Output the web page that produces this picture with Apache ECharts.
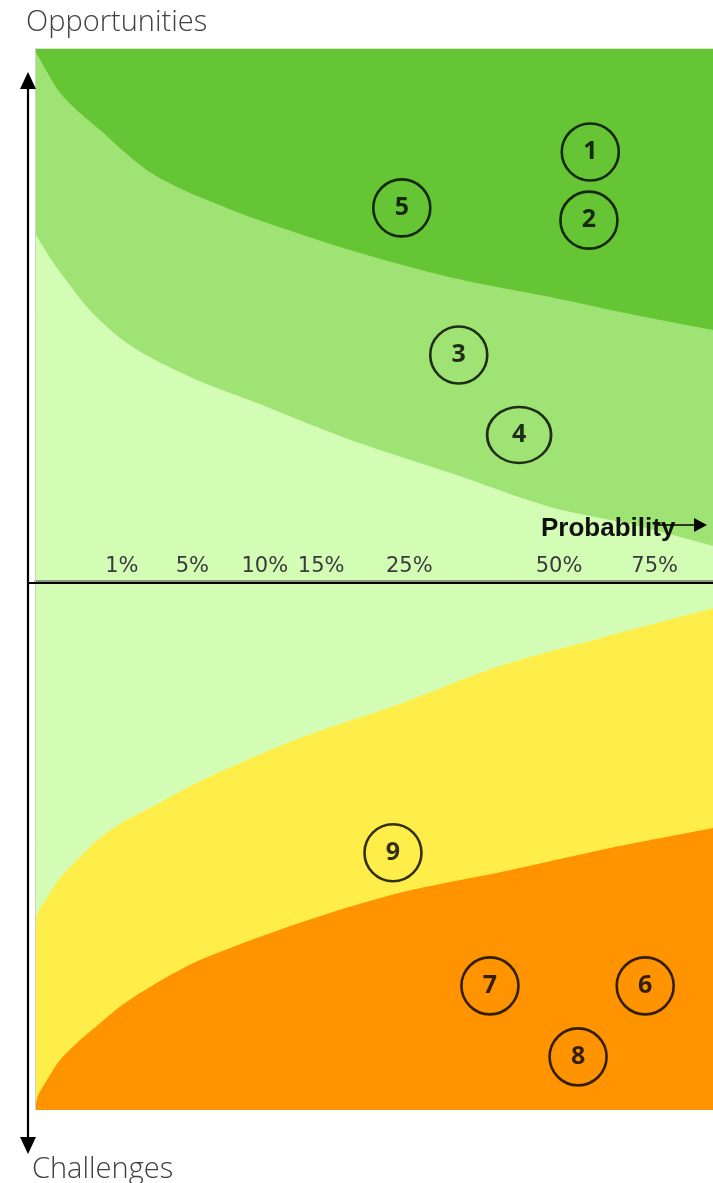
<!DOCTYPE html>
<html>
<head>
<meta charset="utf-8">
<script src="https://cdn.jsdelivr.net/npm/echarts@6/dist/echarts.min.js"></script>
<style>
html,body{margin:0;padding:0;background:#fff;}
#chart{width:713px;height:1183px;}
</style>
</head>
<body>
<div id="chart"></div>
<script>
// ---- data ----
const xTickPos = [12.8, 23.2, 33.9, 42.2, 55.2, 77.3, 91.4];
const xTickLabels = ['1%', '5%', '10%', '15%', '25%', '50%', '75%'];

// Opportunity zone boundaries (x: position, y: impact 0..100)
const highOppX = [0, 1.47, 3.69, 6.64, 9.59, 12.54, 16.96, 21.83, 27.29, 31.71, 46.46, 61.21, 75.96, 87.76, 100];
const highOppY = [99.6, 96.2, 91.6, 87.8, 84.6, 81.2, 76.7, 73.4, 70.5, 68.3, 62.1, 57.0, 53.3, 50.1, 47.1];
const midOppX = [0, 2.65, 5.16, 8.11, 12.54, 16.96, 24.34, 31.71, 46.46, 61.21, 75.96, 87.76, 100];
const midOppY = [65.3, 59.8, 55.5, 50.8, 45.6, 42.0, 37.5, 33.9, 26.5, 20.3, 13.9, 10.7, 6.6];

// Challenge zone boundaries (y: impact 0..-100)
const midChalX = [0, 0.44, 1.77, 3.69, 6.64, 9.59, 13.0, 16.96, 24.34, 39.09, 53.84, 68.58, 83.33, 100];
const midChalY = [-65.2, -62.4, -59.7, -55.9, -51.9, -48.3, -45.2, -42.6, -37.5, -29.3, -22.8, -15.6, -10.3, -4.6];
const highChalX = [0, 0.44, 1.77, 3.69, 6.64, 9.59, 13.0, 16.96, 24.34, 39.09, 53.84, 68.58, 83.33, 100];
const highChalY = [-100, -97.3, -94.3, -90.5, -86.7, -83.5, -79.9, -76.6, -71.5, -64.4, -58.7, -54.8, -50.6, -46.4];

// Items
const oppIds = ['1', '2', '5', '3', '4'];
const oppX = [81.9, 81.7, 54.1, 62.5, 71.4];
const oppY = [80.5, 67.7, 70.0, 42.4, 27.4];
const chalIds = ['9', '7', '6', '8'];
const chalX = [52.8, 67.1, 90.0, 80.1];
const chalY = [-51.1, -76.4, -76.4, -89.9];

// ---- build ----
const zip = (xs, ys) => xs.map((x, i) => [x, ys[i]]);
const chart = echarts.init(document.getElementById('chart'), null, {renderer: 'canvas'});

function bubbles(ids, xs, ys, gridIdx) {
  return {
    type: 'scatter',
    xAxisIndex: gridIdx, yAxisIndex: gridIdx,
    symbol: 'circle',
    symbolSize: 57,
    z: 10,
    itemStyle: {color: 'rgba(0,0,0,0)', borderColor: '#000', borderWidth: 2.6},
    label: {
      show: true, position: 'inside',
      formatter: p => p.name,
      fontFamily: 'Open Sans', fontWeight: 'bold', fontSize: 25, color: '#000'
    },
    emphasis: {disabled: true},
    data: ids.map((id, i) => {
      const d = {name: id, value: [xs[i], ys[i]]};
      if (id === '4') d.symbolSize = [64, 56];
      return d;
    })
  };
}

function band(xs, ys, color, origin, gridIdx) {
  return {
    type: 'line',
    xAxisIndex: gridIdx, yAxisIndex: gridIdx,
    smooth: 0.3,
    showSymbol: false,
    lineStyle: {width: 0},
    areaStyle: {color: color, opacity: 1, origin: origin},
    emphasis: {disabled: true},
    data: zip(xs, ys)
  };
}

const option = {
  animation: false,
  backgroundColor: '#ffffff',
  grid: [
    {left: 35, right: 0, top: 48, height: 533, show: true, backgroundColor: '#D3FDB4', borderWidth: 0},
    {left: 35, right: 0, top: 584, height: 526, show: true, backgroundColor: '#D3FDB4', borderWidth: 0}
  ],
  xAxis: [
    {
      type: 'value', gridIndex: 0, min: 0, max: 100,
      axisLine: {show: true, lineStyle: {color: '#8a9a82', width: 2}},
      axisTick: {show: false},
      splitLine: {show: false},
      axisLabel: {
        inside: true,
        customValues: xTickPos,
        formatter: v => {
          let best = 0;
          xTickPos.forEach((p, i) => { if (Math.abs(p - v) < Math.abs(xTickPos[best] - v)) best = i; });
          return xTickLabels[best];
        },
        fontFamily: 'DejaVu Sans', fontSize: 21, color: '#3a3a3a', margin: 4
      },
      z: 5
    },
    {type: 'value', gridIndex: 1, min: 0, max: 100, show: false}
  ],
  yAxis: [
    {type: 'value', gridIndex: 0, min: 0, max: 100, show: false},
    {type: 'value', gridIndex: 1, min: -100, max: 0, show: false}
  ],
  series: [
    band(midOppX, midOppY, '#9EE373', 'end', 0),
    band(highOppX, highOppY, '#66C535', 'end', 0),
    band(midChalX, midChalY, '#FFEE4A', 'start', 1),
    band(highChalX, highChalY, '#FF9400', 'start', 1),
    bubbles(oppIds, oppX, oppY, 0),
    bubbles(chalIds, chalX, chalY, 1)
  ],
  graphic: [
    {type: 'line', z: 50, shape: {x1: 35.5, y1: 48, x2: 35.5, y2: 1110}, style: {stroke: '#c9d3c2', lineWidth: 1}},
    {type: 'line', z: 50, shape: {x1: 35, y1: 48.5, x2: 713, y2: 48.5}, style: {stroke: '#d8e8cc', lineWidth: 1}},
    {type: 'line', z: 50, shape: {x1: 28, y1: 583, x2: 713, y2: 583}, style: {stroke: '#000', lineWidth: 2}},
    {type: 'line', z: 50, shape: {x1: 28, y1: 86, x2: 28, y2: 1140}, style: {stroke: '#000', lineWidth: 2.2}},
    {type: 'polygon', z: 50, shape: {points: [[28, 72], [20, 89], [36, 89]]}, style: {fill: '#000'}},
    {type: 'polygon', z: 50, shape: {points: [[28, 1154], [20, 1137], [36, 1137]]}, style: {fill: '#000'}},
    {type: 'text', z: 50, left: 26, top: 8, style: {text: 'Opportunities', font: '300 29px "Open Sans"', fill: '#404040'}},
    {type: 'text', z: 50, left: 32, top: 1155, style: {text: 'Challenges', font: '300 29px "Open Sans"', fill: '#404040'}},
    {type: 'text', z: 50, left: 541, top: 516, style: {text: 'Probability', font: 'bold 26px "Liberation Sans", Arial', fill: '#111'}},
    {type: 'line', z: 51, shape: {x1: 657, y1: 525, x2: 696, y2: 525}, style: {stroke: '#000', lineWidth: 1.5}},
    {type: 'polygon', z: 51, shape: {points: [[707, 525], [694, 518], [694, 532]]}, style: {fill: '#000'}}
  ]
};
chart.setOption(option);
</script>
</body>
</html>
